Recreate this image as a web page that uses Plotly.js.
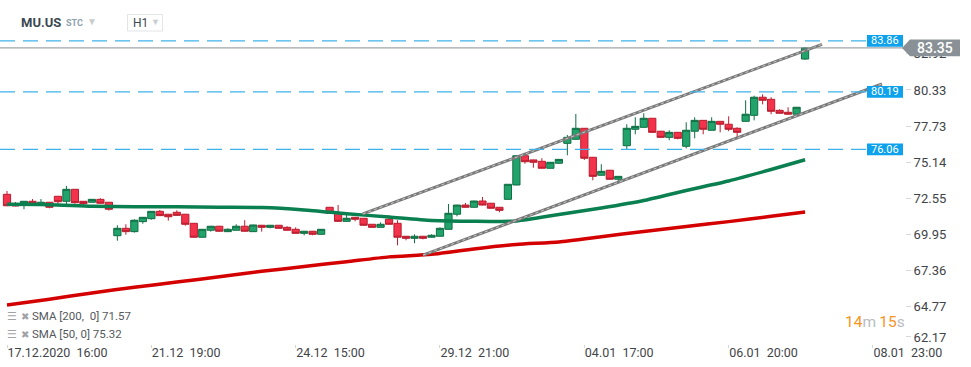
<!DOCTYPE html>
<html>
<head>
<meta charset="utf-8">
<script src="https://cdn.plot.ly/plotly-3.0.1.min.js"></script>
<style>html,body{margin:0;padding:0;background:#fff;}#chart{width:971px;height:367px;}</style>
</head>
<body>
<div id="chart"></div>
<script>
// ---- Data ----
const openP  = [72.84,72.15,72.10,72.34,72.10,72.27,72.70,72.34,73.20,72.34,72.27,72.48,72.27,69.87,70.40,70.16,70.88,71.09,71.62,71.41,71.55,71.41,70.76,69.76,70.26,70.55,70.16,70.26,70.55,70.16,70.62,70.47,70.62,70.47,70.33,70.04,70.19,69.97,71.91,71.48,70.90,71.19,71.12,70.69,70.47,71.05,70.76,69.83,69.68,69.83,69.76,69.83,70.33,71.41,72.07,71.91,72.36,72.20,71.91,72.48,73.51,75.61,75.31,75.21,74.71,75.07,76.50,76.79,77.58,75.50,74.21,74.57,73.92,76.33,77.51,77.65,78.30,77.37,76.93,77.29,76.29,77.37,78.15,77.44,78.08,77.87,77.58,78.08,78.51,79.81,79.66,78.87,78.73,78.59,82.55];
const highP  = [73.08,72.29,72.36,72.50,72.50,72.29,72.72,73.44,73.22,72.36,72.50,72.56,72.29,70.62,70.69,71.05,71.21,71.64,71.72,71.43,71.69,71.43,70.78,70.35,70.57,70.57,70.40,70.69,70.98,70.66,70.64,70.64,70.64,70.55,70.47,70.21,70.21,70.35,71.93,72.07,71.48,71.21,71.14,70.71,70.83,71.33,70.98,69.85,69.97,69.85,69.97,70.47,72.15,72.09,72.22,72.38,72.65,72.22,71.93,73.58,75.63,75.63,75.33,75.43,75.16,75.37,77.10,78.61,77.60,75.52,75.00,74.59,74.15,77.87,78.37,78.66,78.32,77.39,77.44,77.31,78.01,78.37,78.17,78.37,78.10,78.44,77.65,79.59,79.92,80.02,79.81,78.94,79.09,79.11,83.40];
const lowP   = [71.99,71.98,71.77,72.15,72.08,71.84,72.10,72.10,72.17,72.02,72.25,72.18,71.67,69.51,69.94,70.09,70.73,71.02,71.29,70.95,71.31,70.59,69.74,69.74,70.16,70.17,70.14,70.24,70.17,70.14,70.16,70.40,70.38,70.24,70.02,69.90,69.90,69.95,71.46,70.88,70.88,70.90,70.60,70.45,70.45,70.67,69.18,69.54,69.33,69.61,69.74,69.81,70.31,71.26,71.89,71.89,72.05,71.82,71.55,72.46,73.49,75.04,74.75,74.69,74.69,75.05,75.64,76.77,75.31,73.85,74.19,73.90,73.70,76.07,77.15,77.63,77.27,76.91,76.72,76.79,76.14,76.86,77.15,77.42,77.29,77.37,76.86,78.06,78.15,79.30,78.59,78.64,78.57,78.57,82.50];
const closeP = [72.02,72.00,72.34,72.17,72.27,71.91,72.31,73.20,72.24,72.17,72.48,72.20,71.77,70.40,70.16,70.98,71.19,71.62,71.31,71.23,71.33,70.69,69.76,70.33,70.55,70.19,70.33,70.55,70.19,70.64,70.47,70.62,70.40,70.26,70.04,70.19,69.97,70.33,71.48,70.90,71.12,71.05,70.62,70.47,70.69,70.69,69.76,69.68,69.83,69.68,69.90,70.40,71.48,72.07,71.91,72.36,72.07,71.84,71.69,73.56,75.61,75.18,75.14,74.71,75.14,75.35,76.93,77.58,75.43,74.13,74.49,73.92,74.13,77.58,77.72,78.30,77.29,76.93,77.29,76.86,77.44,78.15,77.51,78.08,77.87,77.51,77.29,78.59,79.81,79.59,78.80,78.66,78.59,79.09,83.35];

const smaIdx = [0,5,10,15,20,25,30,35,40,45,50,55,60,65,70,75,80,85,90,94];
const sma50  = [72.12,72.10,71.98,71.95,71.95,71.91,71.89,71.72,71.45,71.21,70.96,70.90,70.93,71.39,71.86,72.40,73.12,73.80,74.62,75.32];
const sma200 = [64.90,65.31,65.76,66.17,66.54,66.92,67.31,67.66,68.00,68.35,68.53,68.92,69.24,69.42,69.80,70.17,70.53,70.88,71.26,71.57];

const chanUpX = [41.9, 96.0],  chanUpY = [71.43, 83.61];
const chanLoX = [49.0, 103.06], chanLoY = [68.48, 80.76];

const levels = [83.86, 80.19, 76.06];
const lastPrice = 83.35;

// y tick labels; the bottom label is pinned just inside the plot edge, as in the reference
const yTickText = ["62.17","64.77","67.36","69.95","72.55","75.14","77.73","80.33","82.92"];
const yTickPos  = [62.60, 64.77, 67.36, 69.95, 72.55, 75.14, 77.73, 80.33, 82.92];
const xTickVals = [0,17,34,51,68,85,102];
const xTickText = ["17.12.2020\u00a0\u00a016:00","21.12\u00a0\u00a019:00","24.12\u00a0\u00a015:00","29.12\u00a0\u00a021:00","04.01\u00a0\u00a017:00","06.01\u00a0\u00a020:00","08.01\u00a0\u00a023:00"];

// ---- Plot ----
const idx = openP.map((_, i) => i);
const FONT = "Roboto, 'Open Sans', sans-serif";
const plotW = 905, plotH = 344;
const px = v => v / plotW;       // pixel -> paper x
const py = v => 1 - v / plotH;   // pixel -> paper y

const traces = [
  {type:'candlestick', x: idx, open: openP, high: highP, low: lowP, close: closeP,
   increasing:{line:{color:'#0f6e43', width:1}, fillcolor:'#22a36b'},
   decreasing:{line:{color:'#b91d2e', width:1}, fillcolor:'#f2334b'},
   whiskerwidth:0, hoverinfo:'skip', showlegend:false},
  {type:'scatter', mode:'lines', x: smaIdx, y: sma200, line:{color:'#d40000', width:3.5, shape:'spline', smoothing:0.6}, hoverinfo:'skip', showlegend:false},
  {type:'scatter', mode:'lines', x: smaIdx, y: sma50, line:{color:'#0a7f50', width:3.5, shape:'spline', smoothing:0.6}, hoverinfo:'skip', showlegend:false},
  {type:'scatter', mode:'lines', x: chanUpX, y: chanUpY, line:{color:'#7a7a7a', width:3}, hoverinfo:'skip', showlegend:false},
  {type:'scatter', mode:'lines', x: chanUpX, y: chanUpY, line:{color:'#c8c8c8', width:1, dash:'dot'}, hoverinfo:'skip', showlegend:false},
  {type:'scatter', mode:'lines', x: chanLoX, y: chanLoY, line:{color:'#7a7a7a', width:3}, hoverinfo:'skip', showlegend:false},
  {type:'scatter', mode:'lines', x: chanLoX, y: chanLoY, line:{color:'#c8c8c8', width:1, dash:'dot'}, hoverinfo:'skip', showlegend:false}
];

const shapes = [];
const annotations = [];

// current price line
shapes.push({type:'line', xref:'paper', yref:'y', x0:0, x1:1, y0:lastPrice, y1:lastPrice, line:{color:'#8a8f93', width:1}});
// level lines with boxes
levels.forEach(v => {
  shapes.push({type:'line', xref:'paper', yref:'y', x0:0, x1:px(866), y0:v, y1:v, line:{color:'#3fb2ec', width:1.3, dash:'15px,8px'}});
  shapes.push({type:'rect', xref:'paper', yref:'y', x0:px(867), x1:px(903), y0:v-0.42, y1:v+0.42, fillcolor:'#0ea2ec', line:{width:0}});
  annotations.push({xref:'paper', yref:'y', x:px(885), y:v, text:v.toFixed(2), showarrow:false, xanchor:'center', yanchor:'middle', font:{family:FONT, size:11, color:'#ffffff'}});
});
// current price tag
const h = 0.6;
shapes.push({type:'path', xref:'paper', yref:'y',
  path:`M ${px(902)} ${lastPrice} L ${px(910)} ${lastPrice+h} L ${px(960)} ${lastPrice+h} L ${px(960)} ${lastPrice-h} L ${px(910)} ${lastPrice-h} Z`,
  fillcolor:'#899196', line:{width:0}});
annotations.push({xref:'paper', yref:'y', x:px(935), y:lastPrice, text:lastPrice.toFixed(2), showarrow:false, xanchor:'center', yanchor:'middle', font:{family:FONT, size:14, color:'#ffffff', weight:500}});

// header
annotations.push({xref:'paper', yref:'paper', x:px(19), y:py(22), text:'<b>MU.US</b>', showarrow:false, xanchor:'left', yanchor:'middle', font:{family:FONT, size:13, color:'#3b4851'}});
annotations.push({xref:'paper', yref:'paper', x:px(64), y:py(23), text:'<b>STC</b>', showarrow:false, xanchor:'left', yanchor:'middle', font:{family:FONT, size:9, color:'#8ea1ad'}});
annotations.push({xref:'paper', yref:'paper', x:px(85), y:py(21), text:'▼', showarrow:false, xanchor:'left', yanchor:'middle', font:{family:FONT, size:10, color:'#c9cdd0'}});
shapes.push({type:'rect', xref:'paper', yref:'paper', x0:px(127.5), x1:px(162.5), y0:py(31), y1:py(14.5), line:{color:'#e2e4e6', width:1}, fillcolor:'rgba(0,0,0,0)'});
annotations.push({xref:'paper', yref:'paper', x:px(131), y:py(23), text:'H1', showarrow:false, xanchor:'left', yanchor:'middle', font:{family:FONT, size:12, color:'#3b4851'}});
annotations.push({xref:'paper', yref:'paper', x:px(149), y:py(22), text:'▼', showarrow:false, xanchor:'left', yanchor:'middle', font:{family:FONT, size:9, color:'#c9cdd0'}});

// indicator legend
const legendRows = [['SMA [200,\u00a0 0] 71.57', 316], ['SMA [50, 0] 75.32', 334]];
legendRows.forEach(([t, y]) => {
  annotations.push({xref:'paper', yref:'paper', x:px(5), y:py(y), text:'☰', showarrow:false, xanchor:'left', yanchor:'middle', font:{family:'DejaVu Sans', size:11, color:'#a0a4a7'}});
  annotations.push({xref:'paper', yref:'paper', x:px(19), y:py(y), text:'✖', showarrow:false, xanchor:'left', yanchor:'middle', font:{family:'DejaVu Sans', size:10, color:'#a0a4a7'}});
  annotations.push({xref:'paper', yref:'paper', x:px(30), y:py(y), text:t, showarrow:false, xanchor:'left', yanchor:'middle', font:{family:FONT, size:11.5, color:'#55595d'}});
});

// countdown timer
annotations.push({xref:'paper', yref:'paper', x:px(843), y:py(322), showarrow:false, xanchor:'left', yanchor:'middle',
  text:'<span style="color:#f7941d">14</span><span style="color:#b9bdc0">m</span>\u2009<span style="color:#f7941d">15</span><span style="color:#b9bdc0">s</span>',
  font:{family:FONT, size:15.5, color:'#f7941d'}});

const layout = {
  width:971, height:367,
  margin:{l:0, r:66, t:0, b:23, pad:0},
  paper_bgcolor:'#ffffff', plot_bgcolor:'#ffffff',
  showlegend:false, hovermode:false,
  boxgap:0.15, boxgroupgap:0,
  font:{family:FONT, color:'#444'},
  xaxis:{range:[-0.824, 105.77], rangeslider:{visible:false}, showgrid:false, zeroline:false, showline:false,
         tickmode:'array', tickvals:xTickVals, ticktext:xTickText, ticks:'outside', ticklen:3, tickcolor:'#d6d6d6',
         ticklabelposition:'outside right', ticklabelstandoff:-3, tickfont:{family:FONT, size:12.5, color:'#3f4448'}, automargin:false, fixedrange:true},
  yaxis:{range:[62.095, 86.79], side:'right', showgrid:false, zeroline:false, showline:false,
         tickmode:'array', tickvals:yTickPos, ticktext:yTickText, ticks:'outside', ticklen:5, tickcolor:'#d9d9d9',
         tickfont:{family:FONT, size:13, color:'#3f4448'}, automargin:false, fixedrange:true},
  shapes, annotations
};

Plotly.newPlot('chart', traces, layout, {displayModeBar:false, staticPlot:true});
</script>
</body>
</html>
